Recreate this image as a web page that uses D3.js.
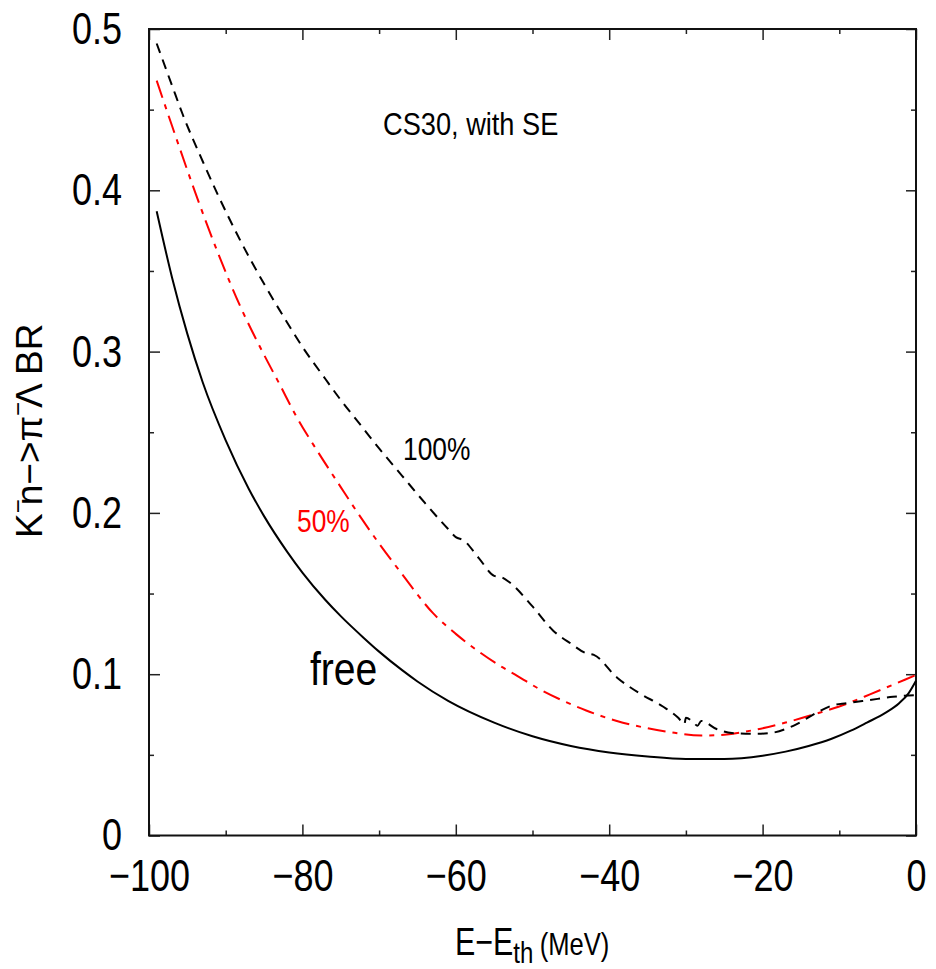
<!DOCTYPE html>
<html>
<head>
<meta charset="utf-8">
<script src="https://cdn.jsdelivr.net/npm/d3@7"></script>
<style>
  body { margin: 0; background: #fff; }
  text { font-family: "Liberation Sans", Arial, sans-serif; fill: #000; }
</style>
</head>
<body>
<div id="chart"></div>
<script>
// energy E - E_th (MeV) and branching ratio
const freeE = [-99, -97, -95, -93, -90, -87, -85, -82, -80, -77, -75, -72, -70, -67, -65, -61, -55, -50, -45, -40, -35, -30, -25, -20, -17, -14, -11, -8.5, -6.4, -4, -2.2, -1, 0];
const freeBR = [0.387, 0.346, 0.311, 0.281, 0.245, 0.215, 0.198, 0.176, 0.163, 0.146, 0.136, 0.1225, 0.114, 0.1025, 0.0955, 0.0835, 0.070, 0.0615, 0.0555, 0.0515, 0.049, 0.0475, 0.0475, 0.0495, 0.052, 0.0555, 0.060, 0.065, 0.070, 0.076, 0.082, 0.088, 0.096];

const halfE = [-99, -97, -94, -91, -88, -85, -83, -80.7, -78, -75, -73, -70, -67, -63, -60, -57, -54, -52, -49, -46, -43, -39, -35, -32, -28, -25, -21, -17, -13, -10, -6, -3, 0];
const halfBR = [0.468, 0.440, 0.399, 0.361, 0.327, 0.298, 0.280, 0.259, 0.238, 0.216, 0.2015, 0.181, 0.162, 0.138, 0.125, 0.114, 0.1045, 0.099, 0.0905, 0.0835, 0.0775, 0.071, 0.0665, 0.064, 0.062, 0.0625, 0.0655, 0.070, 0.0755, 0.080, 0.0875, 0.0935, 0.0995];

const fullE = [-99, -97, -95.6, -93, -91, -88, -85, -82.5, -80, -77, -75, -72.5, -70, -67, -64, -61, -60, -59, -57, -55, -54, -53, -50, -47.3, -45, -43, -42, -39, -36, -33, -31, -30.2, -30, -29, -28.5, -28, -26, -24, -21, -19, -16, -13, -11, -9, -6, -3, 0];
const fullBR = [0.491, 0.465, 0.447, 0.418, 0.397, 0.368, 0.342, 0.322, 0.303, 0.283, 0.270, 0.255, 0.240, 0.223, 0.206, 0.190, 0.185, 0.183, 0.172, 0.161, 0.160, 0.157, 0.142, 0.127, 0.119, 0.113, 0.112, 0.098, 0.088, 0.080, 0.073, 0.069, 0.073, 0.070, 0.068, 0.071, 0.066, 0.0635, 0.063, 0.0635, 0.068, 0.076, 0.0805, 0.082, 0.084, 0.086, 0.087];

const xMajor = [-100, -80, -60, -40, -20, 0];
const xMinor = [-90, -70, -50, -30, -10];
const yMajor = [0, 0.1, 0.2, 0.3, 0.4, 0.5];
const yMinor = [0.05, 0.15, 0.25, 0.35, 0.45];

var W = 936, H = 969;
var plotL = 149, plotR = 916, plotT = 29, plotB = 835.5;
var squeeze = 0.8;

var svg = d3.select("#chart").append("svg")
    .attr("width", W)
    .attr("height", H);

var x = d3.scaleLinear().domain([-100, 0]).range([plotL, plotR]);
var y = d3.scaleLinear().domain([0, 0.5]).range([plotB, plotT]);

// ticks, all pointing inward
function ticks(axis, pos, vals, size) {
    svg.append("g")
        .attr("transform", pos)
        .call(axis.tickValues(vals).tickSize(size).tickSizeOuter(0).tickFormat(""))
        .call(g => g.select(".domain").remove())
        .call(g => g.selectAll("line").attr("stroke", "#222").attr("stroke-width", 1.5));
}
ticks(d3.axisBottom(x), `translate(0,${plotB})`, xMajor, -11);
ticks(d3.axisBottom(x), `translate(0,${plotB})`, xMinor, -5);
ticks(d3.axisTop(x), `translate(0,${plotT})`, xMajor, -11);
ticks(d3.axisTop(x), `translate(0,${plotT})`, xMinor, -5);
ticks(d3.axisLeft(y), `translate(${plotL},0)`, yMajor, -11);
ticks(d3.axisLeft(y), `translate(${plotL},0)`, yMinor, -5);
ticks(d3.axisRight(y), `translate(${plotR},0)`, yMajor, -10);
ticks(d3.axisRight(y), `translate(${plotR},0)`, yMinor, -5);

// tick labels
svg.append("g")
    .attr("transform", `translate(0,${plotB})`)
    .call(d3.axisBottom(x).tickValues(xMajor).tickSize(0).tickPadding(24).tickFormat(d3.format("d")))
    .call(g => g.select(".domain").remove())
    .call(g => g.selectAll("text")
        .attr("font-size", 45)
        .attr("font-family", "Liberation Sans, Arial, sans-serif")
        .attr("transform", `scale(${squeeze},1)`));

svg.append("g")
    .attr("transform", `translate(${plotL},0)`)
    .call(d3.axisLeft(y).tickValues(yMajor).tickSize(0).tickFormat(d => d === 0 ? "0" : d3.format(".1f")(d)))
    .call(g => g.select(".domain").remove())
    .call(g => g.selectAll("text")
        .attr("font-size", 45)
        .attr("font-family", "Liberation Sans, Arial, sans-serif")
        .attr("x", -27 / squeeze)
        .attr("transform", `scale(${squeeze},1)`));

// frame
svg.append("rect")
    .attr("x", plotL).attr("y", plotT)
    .attr("width", plotR - plotL).attr("height", plotB - plotT)
    .attr("fill", "none")
    .attr("stroke", "#111")
    .attr("stroke-width", 2);

// curves
var line = d3.line()
    .x(d => x(d[0]))
    .y(d => y(d[1]))
    .curve(d3.curveMonotoneX);

svg.append("path")
    .datum(d3.zip(freeE, freeBR))
    .attr("d", line)
    .attr("fill", "none")
    .attr("stroke", "#000")
    .attr("stroke-width", 2);

svg.append("path")
    .datum(d3.zip(halfE, halfBR))
    .attr("d", line)
    .attr("fill", "none")
    .attr("stroke", "#ff0000")
    .attr("stroke-width", 2)
    .attr("stroke-dasharray", "18,7,5,7");

svg.append("path")
    .datum(d3.zip(fullE, fullBR))
    .attr("d", line)
    .attr("fill", "none")
    .attr("stroke", "#000")
    .attr("stroke-width", 2)
    .attr("stroke-dasharray", "10,7");

// annotations
function label(px, py, txt, size, color, sq) {
    svg.append("text")
        .attr("transform", `translate(${px},${py}) scale(${sq},1)`)
        .attr("font-size", size)
        .style("fill", color)
        .text(txt);
}
label(383, 135, "CS30, with SE", 32, "#000", 0.85);
label(403, 460, "100%", 31, "#000", 0.85);
label(297, 532, "50%", 31, "#ff0000", 0.85);
label(310, 685, "free", 46, "#000", 0.85);

// x axis title
var xt = svg.append("text")
    .attr("transform", `translate(455,955) scale(${squeeze},1)`)
    .attr("font-size", 38);
xt.append("tspan").text("E\u2212E");
xt.append("tspan").attr("font-size", 30).attr("dy", 8).text("th");
xt.append("tspan").attr("font-size", 32).attr("dy", -8).attr("dx", 8).text("(MeV)");

// y axis title
var yt = svg.append("text")
    .attr("transform", "translate(42,538) rotate(-90)")
    .attr("font-size", 37);
yt.append("tspan").text("K");
yt.append("tspan").attr("font-size", 24).attr("dy", -16).text("\u2212");
yt.append("tspan").attr("dy", 16).attr("dx", -6).text("n\u2212>\u03c0");
yt.append("tspan").attr("font-size", 24).attr("dy", -16).text("\u2212");
yt.append("tspan").attr("dy", 16).attr("dx", -6).text("\u039b BR");
</script>
</body>
</html>
